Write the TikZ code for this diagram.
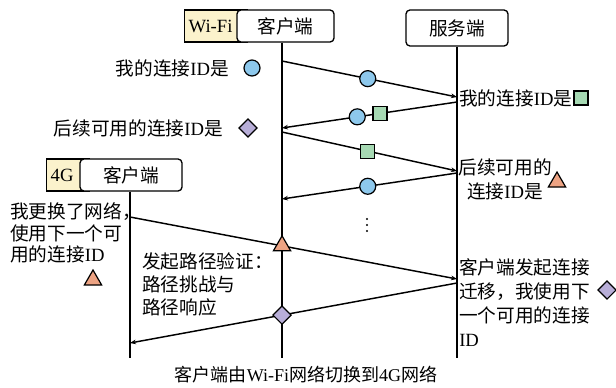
\documentclass[tikz,border=0pt]{standalone}
\usepackage{fontspec}
\setmainfont{Noto Sans CJK SC}
\newfontfamily\latf{Liberation Serif}
\newcommand{\La}[1]{{\latf #1}}
\usetikzlibrary{arrows.meta,shapes.geometric}
\definecolor{idblue}{HTML}{8DC8EC}
\definecolor{idgreen}{HTML}{A6D9B3}
\definecolor{idpurple}{HTML}{B8AED8}
\definecolor{idorange}{HTML}{EDA383}
\definecolor{netyellow}{HTML}{FBF2CC}
\begin{document}
\begin{tikzpicture}[x=0.75pt,y=-0.75pt,
  lbl/.style={inner sep=0pt, font=\fontsize{14pt}{17pt}\selectfont},
  cbox/.style={draw, line width=1pt, rounded corners=3pt, fill=white, minimum height=24pt, font=\fontsize{14pt}{17pt}\selectfont},
  netbox/.style={draw, line width=1pt, fill=netyellow, minimum height=24pt, anchor=west, inner xsep=3pt, font=\fontsize{14pt}{16pt}\selectfont},
  life/.style={line width=1pt},
  msg/.style={line width=1.1pt, -{Stealth[length=4.5pt,width=3.5pt]}},
  cid/.style={circle, draw, line width=0.9pt, fill=idblue, minimum size=12pt, inner sep=0pt},
  sid/.style={rectangle, draw, line width=0.9pt, fill=idgreen, minimum size=10.5pt, inner sep=0pt},
  did/.style={diamond, draw, line width=0.9pt, fill=idpurple, minimum size=14pt, inner sep=0pt},
  tid/.style={regular polygon, regular polygon sides=3, draw, line width=0.9pt, fill=idorange, minimum size=15pt, inner sep=0pt},
  dotmark/.style={circle, fill=black, minimum size=1.6pt, inner sep=0pt},
]
\fill[white] (0,0) rectangle (616,387);
\useasboundingbox (0,0) rectangle (616,387);

% header boxes
\node[netbox] (wifi) at (184,26) {\La{Wi-Fi}\kern8pt};
\node[cbox, minimum width=72.75pt] (c1) at (285.5,26) {客户端};
\node[cbox, minimum width=76.5pt, minimum height=27pt] (srv) at (457,28) {服务端};
\node[netbox] (g4) at (46,175) {\La{4G}\kern9pt};
\node[cbox, minimum width=76.5pt] (c2) at (131,175) {客户端};

% lifelines
\coordinate (w1) at (282,358);
\coordinate (s1) at (457,358);
\coordinate (g1) at (130,358);
\draw[life] (w1 |- c1.south) -- (w1);
\draw[life] (srv.south) -- (s1);
\draw[life] (g1 |- c2.south) -- (g1);

% messages
\coordinate (m1a) at (282,61);  \coordinate (m1b) at (457,97);
\coordinate (m2a) at (457,102); \coordinate (m2b) at (282,128);
\coordinate (m3a) at (282,132); \coordinate (m3b) at (457,171);
\coordinate (m4a) at (457,173); \coordinate (m4b) at (282,199);
\coordinate (m5a) at (130,217); \coordinate (m5b) at (457,279);
\coordinate (m6a) at (457,283); \coordinate (m6b) at (130,343);
\draw[msg] (m1a) -- node[cid, pos=0.49] (k1) {} (m1b);
\draw[msg] (m2a) -- node[sid, pos=0.44] (q1) {} node[cid, pos=0.57] (k2) {} (m2b);
\draw[msg] (m3a) -- node[sid, pos=0.49] (q2) {} (m3b);
\draw[msg] (m4a) -- node[cid, pos=0.51] (k3) {} (m4b);
\draw[msg] (m5a) -- node[tid, pos=0.465] (r2) {} (m5b);
\draw[msg] (m6a) -- node[did, pos=0.535] (d2) {} (m6b);

% labels
\node[lbl, anchor=east] (t1) at (229,68) {我的连接\La{ID}是};
\node[cid] (k0) at (252,68) {};
\node[lbl, anchor=east] (t2) at (223,128) {后续可用的连接\La{ID}是};
\node[did] (d0) at (248,128) {};
\node[lbl, anchor=west] (t3) at (459,98) {我的连接\La{ID}是};
\node[sid] (q0) at (581,98) {};
\node[lbl, anchor=north, align=center, font=\fontsize{14pt}{18pt}\selectfont] (t4) at (505,158.7) {后续可用的\\连接\La{ID}是};
\node[tid] (r0) at (557,182) {};
\node[lbl, anchor=north west, align=left, font=\fontsize{14pt}{16pt}\selectfont] (t5) at (10,202.7) {我更换了网络，\\使用下一个可\\用的连接\La{ID}};
\node[tid] (r1) at (93,280) {};
\node[lbl, anchor=north west, align=left, font=\fontsize{14pt}{17pt}\selectfont] (t6) at (142,252.7) {发起路径验证：\\路径挑战与\\路径响应};
\node[lbl, anchor=north west, align=left, font=\fontsize{14pt}{18pt}\selectfont] (t7) at (459,258.7) {客户端发起连接\\迁移，我使用下\\一个可用的连接\\\La{ID}};
\node[did] (d1) at (607,290) {};
\node[dotmark] (v1) at (367,219) {};
\node[dotmark] (v2) at (367,225) {};
\node[dotmark] (v3) at (367,231) {};
\node[lbl, font=\fontsize{13.5pt}{16pt}\selectfont] (cap) at (306,375) {客户端由\La{Wi-Fi}网络切换到\La{4G}网络};
\end{tikzpicture}
\end{document}
